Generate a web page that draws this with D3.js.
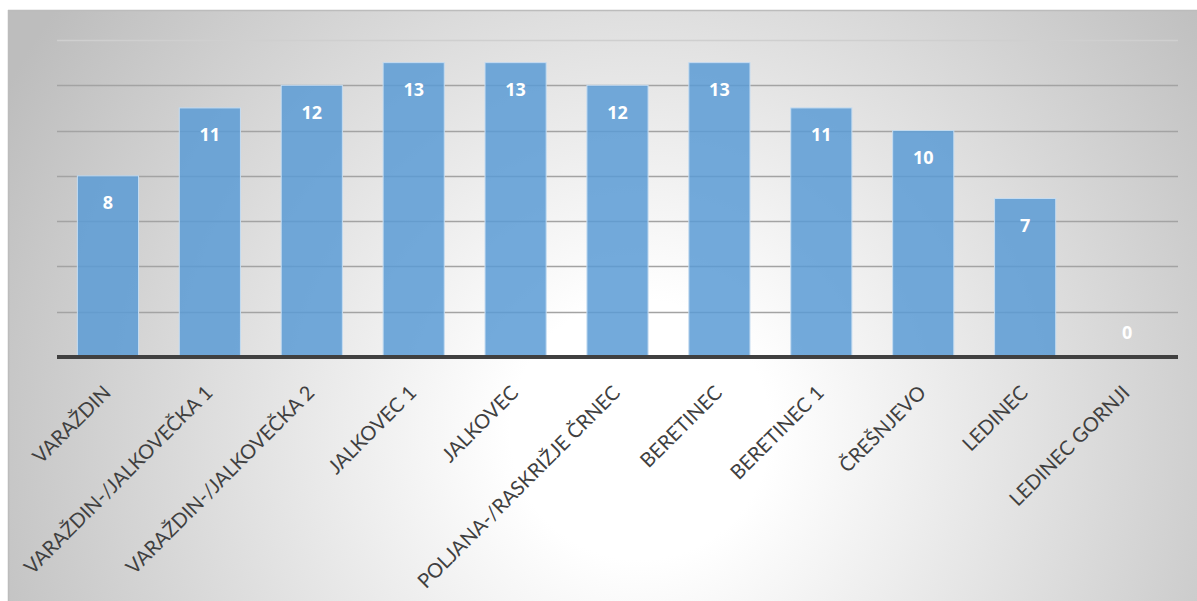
<!DOCTYPE html>
<html><head><meta charset="utf-8">
<script src="https://cdn.jsdelivr.net/npm/d3@7"></script>
<style>html,body{margin:0;padding:0;background:#fff;}svg{display:block;}</style>
</head><body>
<svg id="chart" width="1197" height="601"></svg>
<script>
const categories = ["VARAŽDIN","VARAŽDIN-/JALKOVEČKA 1","VARAŽDIN-/JALKOVEČKA 2","JALKOVEC 1","JALKOVEC","POLJANA-/RASKRIŽJE ČRNEC","BERETINEC","BERETINEC 1","ČREŠNJEVO","LEDINEC","LEDINEC GORNJI"];
const values = [8,11,12,13,13,12,13,11,10,7,0];
const gridTicks = [0,2,4,6,8,10,12,14];

(function(){
const svg = d3.select("#chart");
const W = 1197, H = 601;
const defs = svg.append("defs");
const grad = defs.append("radialGradient").attr("id","bg")
  .attr("gradientUnits","userSpaceOnUse").attr("cx",640).attr("cy",430).attr("r",720);
grad.append("stop").attr("offset","0%").attr("stop-color","#ffffff");
grad.append("stop").attr("offset","18%").attr("stop-color","#ffffff");
grad.append("stop").attr("offset","100%").attr("stop-color","#bdbdbd");

svg.append("rect").attr("x",8).attr("y",10).attr("width",W-8).attr("height",H-10)
  .attr("fill","url(#bg)");
svg.append("line").attr("x1",8).attr("x2",W).attr("y1",10.5).attr("y2",10.5).attr("stroke","#bcbcbc").attr("stroke-width",1.5);
svg.append("line").attr("x1",8.5).attr("x2",8.5).attr("y1",10).attr("y2",H).attr("stroke","#bcbcbc").attr("stroke-width",1.5);

const pl = 57, pr = 1178, pt = 40, pb = 357;
const x = d3.scaleBand().domain(categories).range([pl,pr]).paddingInner(0.4).paddingOuter(0.2);
const y = d3.scaleLinear().domain([0,14]).range([pb,pt]);

svg.append("g").selectAll("line").data(gridTicks.filter(d=>d>0)).join("line")
  .attr("x1",pl).attr("x2",pr)
  .attr("y1",d=>Math.round(y(d))+0.5).attr("y2",d=>Math.round(y(d))+0.5)
  .attr("stroke",d=>d===14?"#cfcfcf":"#a3a3a3").attr("stroke-width",1.3);

svg.append("g").selectAll("rect").data(values).join("rect")
  .attr("x",(d,i)=>x(categories[i]))
  .attr("width",x.bandwidth())
  .attr("y",d=>y(d))
  .attr("height",d=>y(0)-y(d))
  .attr("fill","#5b9bd5").attr("fill-opacity",0.85)
  .attr("stroke","#c5dcf1").attr("stroke-width",1);

const xAxis = d3.axisBottom(x).tickSize(0).tickPadding(0);
const gx = svg.append("g").attr("transform",`translate(0,${pb})`).call(xAxis);
gx.attr("font-size",null).attr("font-family",null);
gx.select(".domain").attr("stroke","#404040").attr("stroke-width",4).attr("d",`M${pl},0H${pr}`);
gx.selectAll(".tick text")
  .style("font-family","Lato, sans-serif").style("font-size","20px").attr("fill","#404040")
  .attr("text-anchor","end").attr("dy",0).attr("y",0)
  .attr("transform","translate(4,37) rotate(-45)");

svg.append("g").selectAll("text").data(values).join("text")
  .attr("x",(d,i)=>x(categories[i])+x.bandwidth()/2)
  .attr("y",d=>d===0? y(0)-24 : y(d)+27)
  .attr("dy","0.36em")
  .attr("text-anchor","middle")
  .style("font-family","'Open Sans', sans-serif").style("font-weight","bold").style("font-size","18px")
  .attr("fill","#ffffff")
  .text(d=>d);
})();
</script>
</body></html>
